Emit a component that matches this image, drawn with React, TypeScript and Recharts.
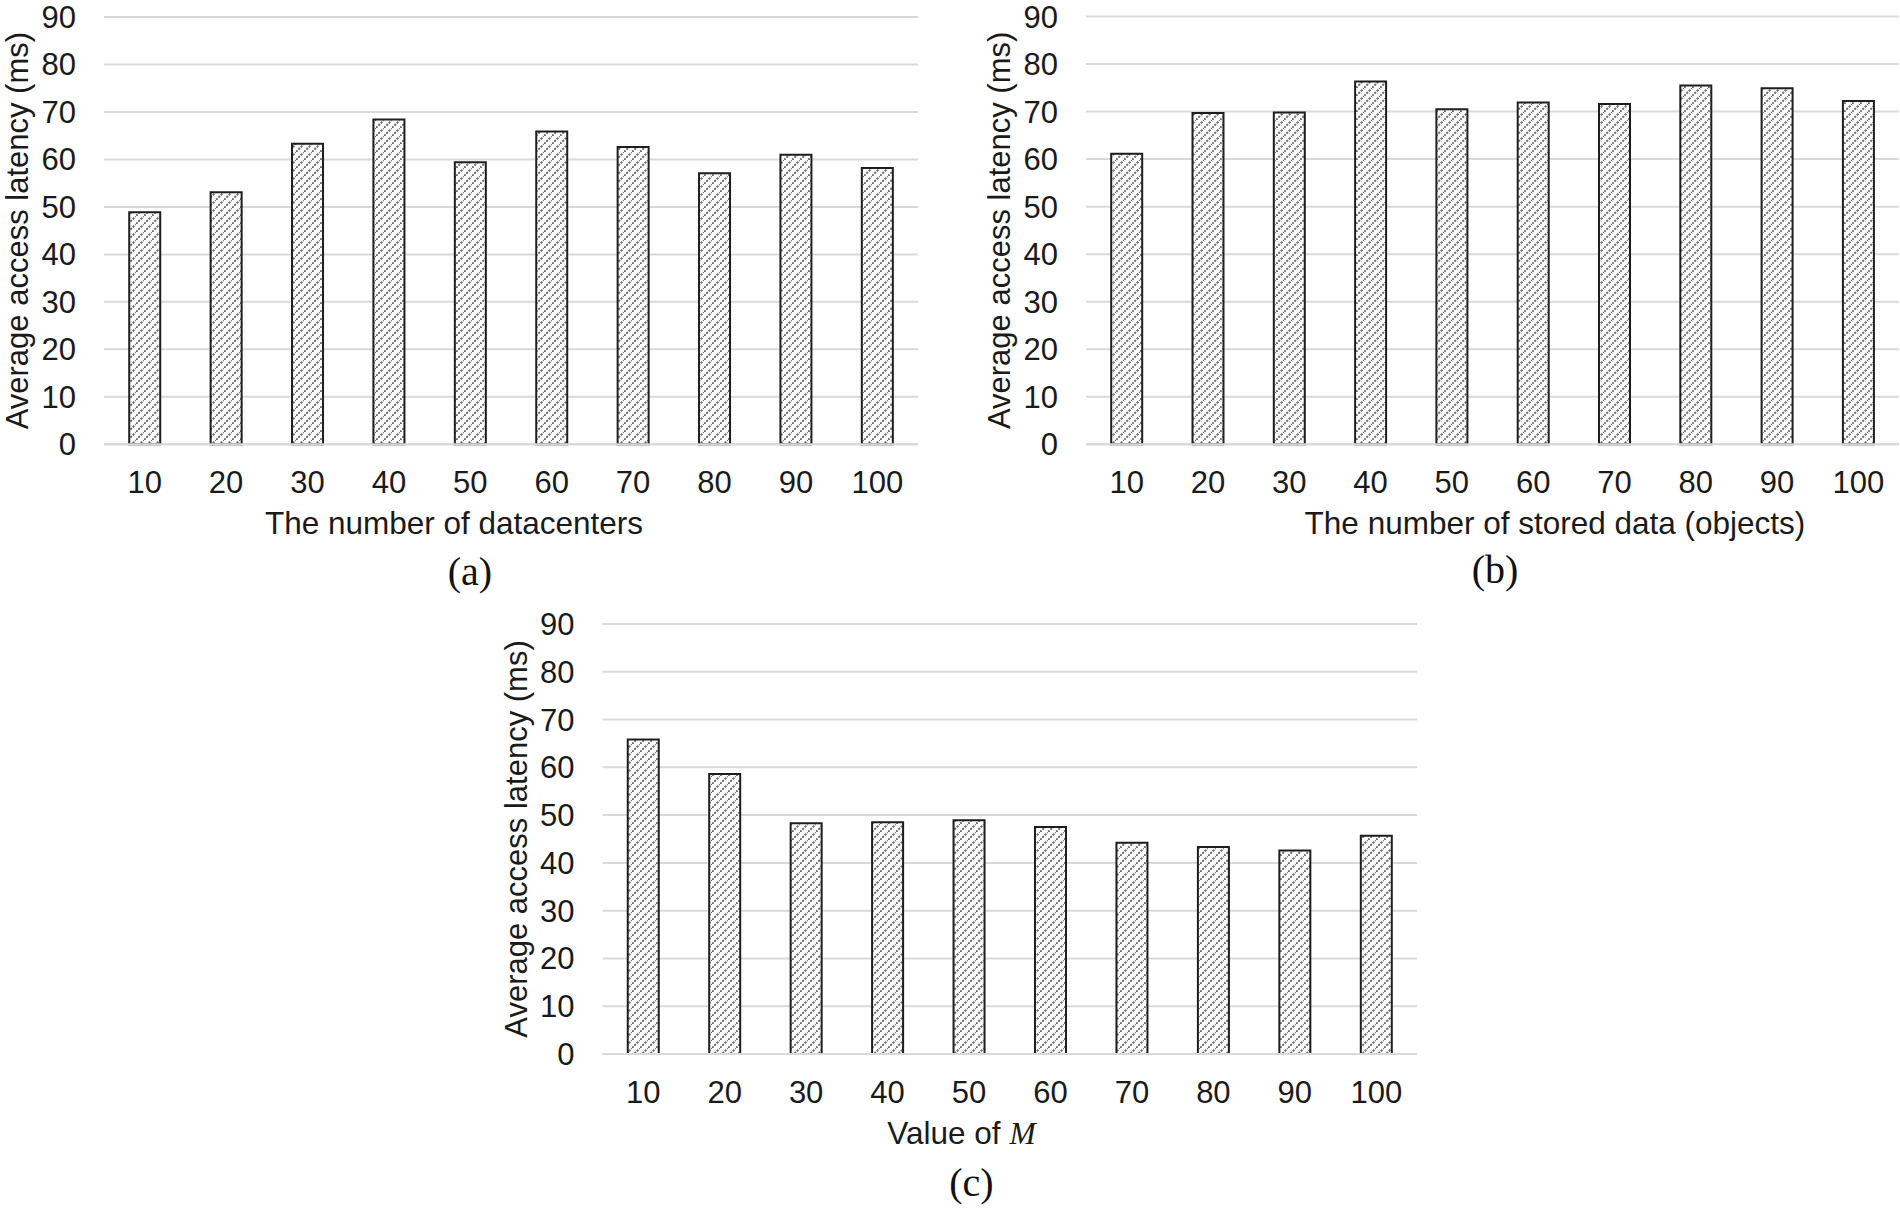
import { BarChart, Bar, XAxis, YAxis, CartesianGrid, Label } from "recharts";

const categories = ["10", "20", "30", "40", "50", "60", "70", "80", "90", "100"];
const datacenterLatency = [48.9, 53.1, 63.3, 68.4, 59.4, 65.9, 62.6, 57.1, 61.0, 58.2];
const storedDataLatency = [61.1, 69.7, 69.8, 76.3, 70.5, 71.9, 71.6, 75.5, 74.9, 72.2];
const mValueLatency = [65.8, 58.6, 48.3, 48.5, 48.9, 47.5, 44.2, 43.3, 42.6, 45.7];
const yTicks = [0, 10, 20, 30, 40, 50, 60, 70, 80, 90];

const SANS = '"Liberation Sans", Arial, Helvetica, sans-serif';
const SERIF = '"Liberation Serif", "Times New Roman", serif';
const TEXT = "#1a1a1a";
const GRID = "#d9d9d9";

function BottomTitles({ viewBox, title, titleDx, caption, captionDx, captionDy }: any) {
  const { x, y } = viewBox;
  return (
    <g>
      <text x={x + titleDx} y={y + 90} textAnchor="middle" fontSize={31.5} fontFamily={SANS} fill={TEXT}>
        {title}
      </text>
      <text x={x + captionDx} y={y + captionDy} textAnchor="middle" fontSize={40} fontFamily={SERIF} fill="#111">
        {caption}
      </text>
    </g>
  );
}

function SideTitle({ viewBox }: any) {
  const bx = viewBox.x + viewBox.width - 76;
  const cy = viewBox.y + viewBox.height / 2;
  return (
    <text
      x={bx}
      y={cy}
      transform={`rotate(-90 ${bx} ${cy})`}
      textAnchor="middle"
      fontSize={31}
      fontFamily={SANS}
      fill={TEXT}
    >
      Average access latency (ms)
    </text>
  );
}

interface PanelProps {
  id: string;
  values: number[];
  left: number;
  top: number;
  width: number;
  height: number;
  marginTop: number;
  marginRight: number;
  yAxisWidth: number;
  xAxisHeight: number;
  title: React.ReactNode;
  titleDx: number;
  caption: string;
  captionDx: number;
  captionDy: number;
}

function Panel(p: PanelProps) {
  const data = categories.map((c, i) => ({ category: c, latency: p.values[i] }));
  return (
    <div style={{ position: "absolute", left: p.left, top: p.top }}>
      <BarChart
        width={p.width}
        height={p.height}
        data={data}
        margin={{ top: p.marginTop, right: p.marginRight, bottom: 0, left: 0 }}
        barCategoryGap="31%"
      >
        <defs>
          <pattern id={p.id} width={8} height={8} patternUnits="userSpaceOnUse">
            <rect width={8} height={8} fill="#fff" />
            <path
              d="M-2,2 L2,-2 M0,8 L8,0 M6,10 L10,6"
              stroke="#6e6e6e"
              strokeWidth={2}
              strokeDasharray="2.2 1.2"
            />
          </pattern>
        </defs>
        <CartesianGrid vertical={false} stroke={GRID} strokeWidth={2} />
        <XAxis
          dataKey="category"
          height={p.xAxisHeight}
          interval={0}
          tickLine={false}
          tickSize={0}
          tickMargin={27}
          axisLine={{ stroke: GRID, strokeWidth: 2 }}
          tick={{ fontSize: 31, fill: TEXT, fontFamily: SANS }}
        >
          <Label
            content={(lp: any) => (
              <BottomTitles
                viewBox={lp.viewBox}
                title={p.title}
                titleDx={p.titleDx}
                caption={p.caption}
                captionDx={p.captionDx}
                captionDy={p.captionDy}
              />
            )}
          />
        </XAxis>
        <YAxis
          width={p.yAxisWidth}
          domain={[0, 90]}
          ticks={yTicks}
          interval={0}
          axisLine={false}
          tickLine={false}
          tickSize={0}
          tickMargin={28}
          tick={{ fontSize: 31, fill: TEXT, fontFamily: SANS }}
        >
          <Label content={(lp: any) => <SideTitle viewBox={lp.viewBox} />} />
        </YAxis>
        <Bar
          dataKey="latency"
          fill={`url(#${p.id})`}
          stroke="#1e1e1e"
          strokeWidth={2}
          isAnimationActive={false}
        />
      </BarChart>
    </div>
  );
}

export default function App() {
  return (
    <div
      style={{
        position: "absolute",
        left: 0,
        top: 0,
        width: 1900,
        height: 1209,
        background: "#fff",
        overflow: "hidden",
      }}
    >
      <Panel
        id="hatchA"
        values={datacenterLatency}
        left={0}
        top={0}
        width={940}
        height={600}
        marginTop={17}
        marginRight={22}
        yAxisWidth={104}
        xAxisHeight={155.7}
        title="The number of datacenters"
        titleDx={350}
        caption="(a)"
        captionDx={366}
        captionDy={141}
      />
      <Panel
        id="hatchB"
        values={storedDataLatency}
        left={980}
        top={0}
        width={920}
        height={600}
        marginTop={16.5}
        marginRight={1}
        yAxisWidth={106}
        xAxisHeight={155.7}
        title="The number of stored data (objects)"
        titleDx={469}
        caption="(b)"
        captionDx={409}
        captionDy={139}
      />
      <Panel
        id="hatchC"
        values={mValueLatency}
        left={480}
        top={600}
        width={960}
        height={609}
        marginTop={24}
        marginRight={23}
        yAxisWidth={122.5}
        xAxisHeight={155}
        title={
          <>
            Value of{" "}
            <tspan fontFamily={SERIF} fontStyle="italic">
              M
            </tspan>
          </>
        }
        titleDx={359}
        caption="(c)"
        captionDx={369}
        captionDy={142}
      />
    </div>
  );
}
